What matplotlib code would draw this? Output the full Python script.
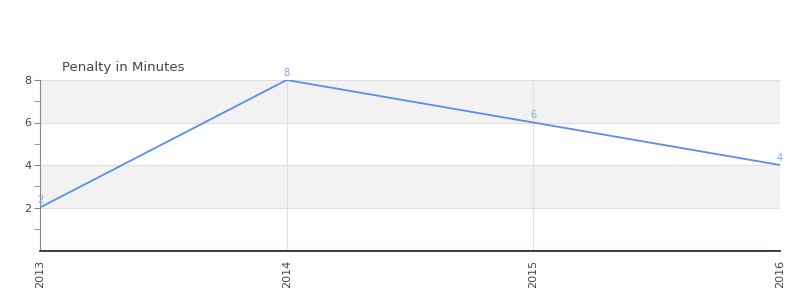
import matplotlib
matplotlib.use("Agg")
import matplotlib.pyplot as plt

years = ["2013", "2014", "2015", "2016"]
penalty = [2, 8, 6, 4]
title = "Penalty in Minutes"

fig = plt.figure(figsize=(8, 3), dpi=100)
ax = fig.add_axes([0.05, 1 - 250/300, 0.925, 170/300])
x = list(range(len(years)))

ax.set_xlim(0, len(years) - 1)
ax.set_ylim(0, 8)

# alternating bands
for lo, hi in [(2, 4), (6, 8)]:
    ax.axhspan(lo, hi, color="#f2f2f2", zorder=0, lw=0)
for y in [2, 4, 6, 8]:
    ax.axhline(y, color="#e0e0e0", lw=0.8, zorder=1)
for xi in x[1:]:
    ax.axvline(xi, color="#e0e0e0", lw=0.8, zorder=1)

ax.plot(x, penalty, color="#5b8def", lw=1.3, zorder=3)
for xi, v in zip(x, penalty):
    ax.annotate(str(v), (xi, v), xytext=(0, 1.5), textcoords="offset points",
                ha="center", va="bottom", fontsize=7, color="#7fa6f0", zorder=4)

ax.set_yticks([2, 4, 6, 8])
ax.set_yticks([1, 3, 5, 7], minor=True)
ax.set_xticks(x)
ax.set_xticklabels(years)
ax.tick_params(axis="y", which="both", length=4, color="#888888", labelsize=8, labelcolor="#444444", pad=2)
ax.tick_params(axis="x", length=0, labelsize=8, labelcolor="#444444", pad=6, labelrotation=90)

for s in ["top", "right"]:
    ax.spines[s].set_visible(False)
ax.spines["left"].set_color("#888888")
ax.spines["bottom"].set_color("#333333")
ax.spines["bottom"].set_linewidth(1.3)
ax.spines["bottom"].set_position(("outward", 1))
ax.spines["bottom"].set_zorder(6)

ax.axhline(0, color="#cc0000", lw=0.5, zorder=5, clip_on=False)

fig.text(62/800, 1 - 67/300, title, fontsize=9.5, color="#444444", va="center", ha="left")

fig.savefig("out.png", dpi=100)
